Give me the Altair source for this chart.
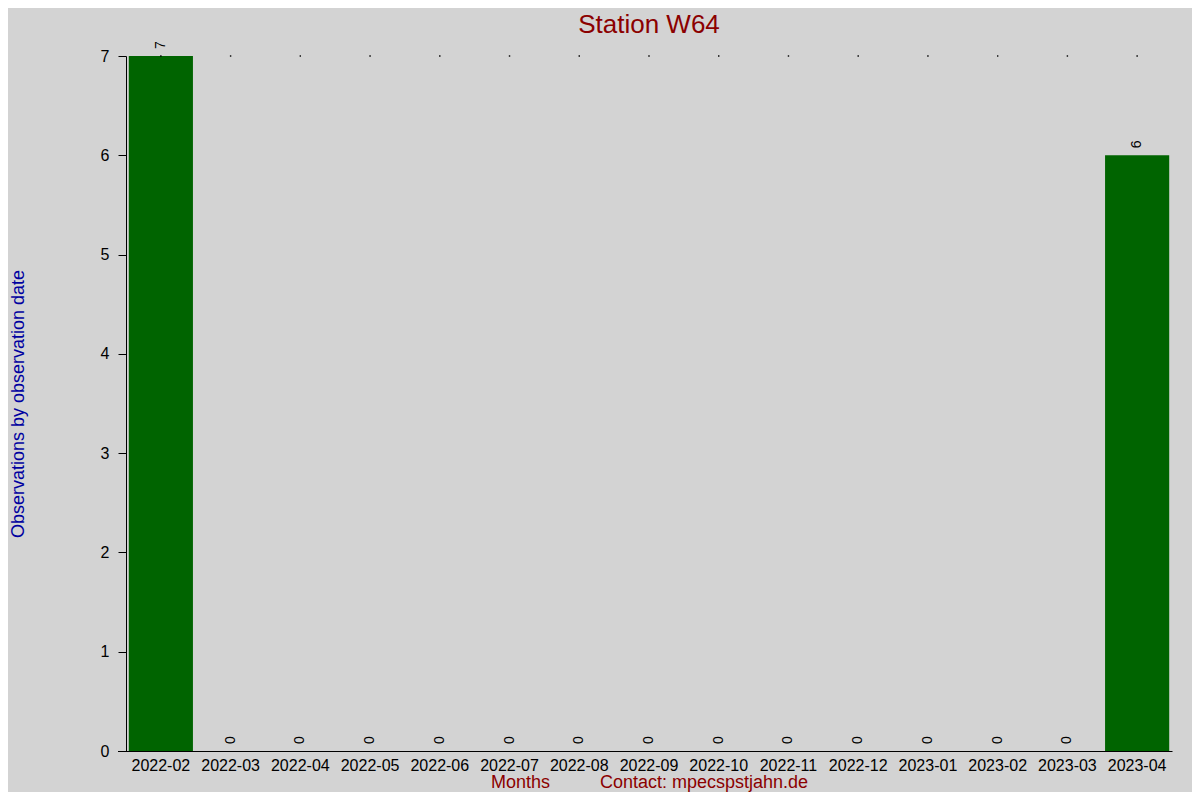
import altair as alt
import pandas as pd

months = ["2022-02", "2022-03", "2022-04", "2022-05", "2022-06", "2022-07", "2022-08",
          "2022-09", "2022-10", "2022-11", "2022-12", "2023-01", "2023-02", "2023-03", "2023-04"]
counts = [7, 0, 0, 0, 0, 0, 0, 0, 0, 0, 0, 0, 0, 0, 6]
y_ticks = [0, 1, 2, 3, 4, 5, 6, 7]

df = pd.DataFrame({"month": months, "count": counts})

FONT = "Liberation Sans"
NB = "\u00a0"
xtitle = "Months" + NB * 10 + "Contact: mpecspstjahn.de"

xscale = alt.Scale(paddingInner=0.08, paddingOuter=0.04)
yscale = alt.Scale(domain=[0, 7], nice=False)
yaxis = alt.Axis(values=y_ticks, format="d", grid=False)

x = alt.X("month:N", sort=months, scale=xscale, title=xtitle)
y = alt.Y("count:Q", scale=yscale, title="Observations by observation date", axis=yaxis)

base = alt.Chart(df)

dots = base.mark_square(size=2, color="black", opacity=1).encode(
    x=x, y=alt.value(0))

baseline = base.mark_rule(color="black", strokeWidth=1).encode(
    x=alt.value(-8), x2=alt.value(1046), y=alt.value(695.5))

bars = base.mark_bar(color="#006400").encode(x=x, y=y)

labels = base.mark_text(angle=270, align="left", baseline="middle", dx=7,
                        fontSize=14, font=FONT, color="black").encode(
    x=x, y=y, text="count:Q")

chart = alt.layer(bars, dots, baseline, labels).properties(
    width=1046, height=695,
    background="#D3D3D3",
    autosize=alt.AutoSizeParams(type="none"),
    padding={"left": 118, "top": 48, "right": 20, "bottom": 41},
    title=alt.TitleParams("Station W64", color="#8B0000", fontSize=26, font=FONT,
                          fontWeight="normal", anchor="middle", offset=3),
).configure_view(stroke=None).configure_axisX(
    labelAngle=0, ticks=False, labelFontSize=16, labelColor="black", labelFont=FONT,
    labelPadding=6, bandPosition=0.5, labelAlign="center", domainColor="black",
    titleColor="#8B0000", titleFontSize=18, titleFont=FONT, titleFontWeight="normal",
    titlePadding=0,
).configure_axisY(
    grid=False, tickSize=8, tickColor="black",
    domainColor="black", labelFontSize=16, labelColor="black", labelFont=FONT,
    labelPadding=9, titleColor="#0000A0", titleFontSize=18, titleFont=FONT,
    titleFontWeight="normal", titlePadding=73,
)

chart.save("out.html", embed_options={"renderer": "svg", "actions": False})
